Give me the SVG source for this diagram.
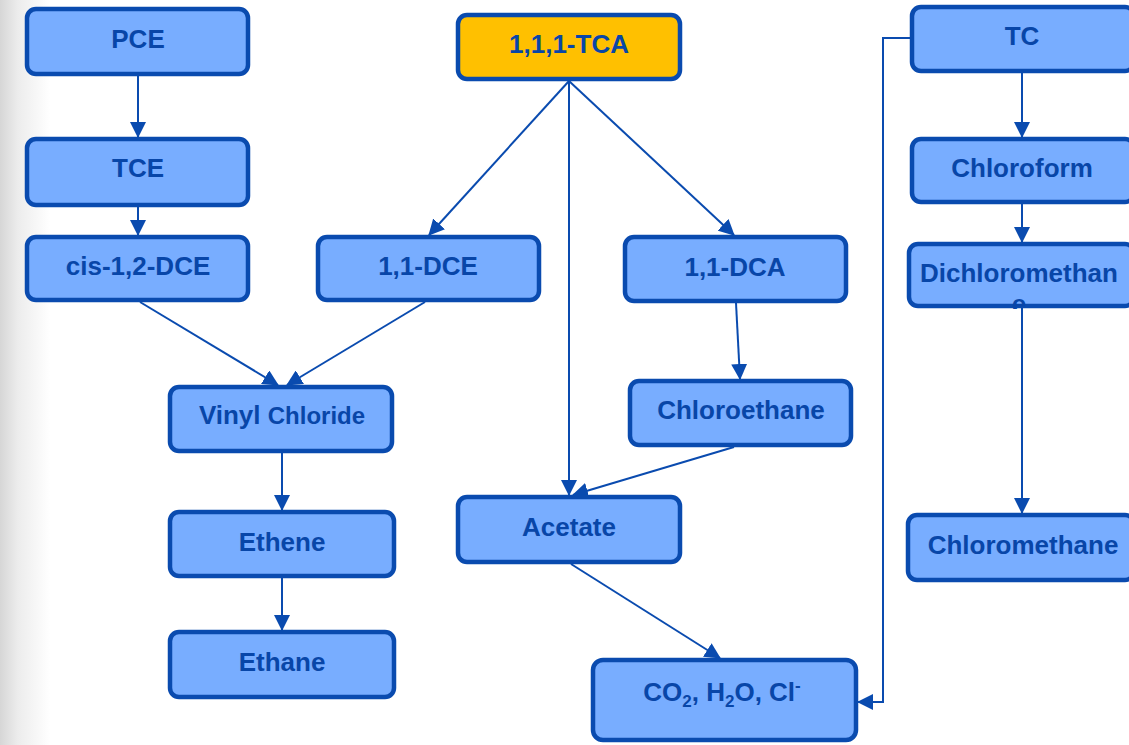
<svg xmlns="http://www.w3.org/2000/svg" width="1129" height="745" viewBox="0 0 1129 745">
<defs>
<linearGradient id="shade" x1="0" y1="0" x2="1" y2="0">
<stop offset="0" stop-color="#d6d6d6"/>
<stop offset="0.35" stop-color="#ececec"/>
<stop offset="1" stop-color="#ffffff"/>
</linearGradient>
<marker id="ah" viewBox="0 0 16 16" refX="15" refY="8" markerWidth="16" markerHeight="16" markerUnits="userSpaceOnUse" orient="auto">
<path d="M0,0 L16,8 L0,16 z" fill="#0A4BAF"/>
</marker>
<clipPath id="dcmClip"><rect x="907" y="242" width="230" height="67"/></clipPath>
</defs>
<style>
.box{fill:#78ADFF;stroke:#0A4BAF;stroke-width:4.5}
.gold{fill:#FFC000;stroke:#0A4BAF;stroke-width:4.5}
.lbl{font-family:"Liberation Sans",Arial,sans-serif;font-weight:bold;font-size:26px;fill:#0846A8;text-anchor:middle}
.con{fill:none;stroke:#0A4BAF;stroke-width:2;marker-end:url(#ah)}
</style>
<rect x="0" y="0" width="1129" height="745" fill="#ffffff"/>
<rect x="0" y="0" width="50" height="745" fill="url(#shade)"/>

<g id="connectors">
<line class="con" x1="138" y1="76" x2="138" y2="137"/>
<line class="con" x1="138" y1="207" x2="138" y2="235"/>
<line class="con" x1="569" y1="81" x2="429" y2="235"/>
<line class="con" x1="569" y1="81" x2="569" y2="495"/>
<line class="con" x1="569" y1="81" x2="734" y2="235"/>
<line class="con" x1="140" y1="302" x2="278" y2="385"/>
<line class="con" x1="425" y1="302" x2="287" y2="385"/>
<line class="con" x1="282" y1="453" x2="282" y2="510"/>
<line class="con" x1="282" y1="578" x2="282" y2="630"/>
<line class="con" x1="736" y1="303" x2="740" y2="379"/>
<line class="con" x1="734" y1="447" x2="573" y2="495"/>
<line class="con" x1="571" y1="564" x2="720" y2="658"/>
<polyline class="con" points="910,38 883,38 883,702 858,702"/>
<line class="con" x1="1022" y1="73" x2="1022" y2="137"/>
<line class="con" x1="1022" y1="204" x2="1022" y2="242"/>
<line class="con" x1="1022" y1="308" x2="1022" y2="513"/>
</g>

<g id="n-pce"><rect class="box" x="27" y="9" width="221" height="65" rx="9"/><text class="lbl" x="138" y="48">PCE</text></g>
<g id="n-tca"><rect class="gold" x="458" y="15" width="222" height="64" rx="9"/><text class="lbl" x="569" y="53">1,1,1-TCA</text></g>
<g id="n-tc"><rect class="box" x="912" y="7" width="222" height="64" rx="9"/><text class="lbl" x="1022" y="45">TC</text></g>
<g id="n-tce"><rect class="box" x="27" y="139" width="221" height="66" rx="9"/><text class="lbl" x="138" y="177">TCE</text></g>
<g id="n-chloroform"><rect class="box" x="912" y="139" width="222" height="63" rx="9"/><text class="lbl" x="1022" y="177">Chloroform</text></g>
<g id="n-cisdce"><rect class="box" x="27" y="237" width="221" height="63" rx="9"/><text class="lbl" x="138" y="275">cis-1,2-DCE</text></g>
<g id="n-11dce"><rect class="box" x="318" y="237" width="221" height="63" rx="9"/><text class="lbl" x="428" y="275">1,1-DCE</text></g>
<g id="n-11dca"><rect class="box" x="625" y="237" width="221" height="64" rx="9"/><text class="lbl" x="735" y="276">1,1-DCA</text></g>
<g id="n-dcm"><rect class="box" x="909" y="244" width="225" height="62" rx="9"/><text class="lbl" x="1019" y="282">Dichloromethan</text><text class="lbl" x="1019" y="313" clip-path="url(#dcmClip)">e</text></g>
<g id="n-vc"><rect class="box" x="170" y="387" width="222" height="64" rx="9"/><text class="lbl" x="282" y="424"><tspan>Vinyl </tspan><tspan font-size="24">Chloride</tspan></text></g>
<g id="n-chloroethane"><rect class="box" x="630" y="381" width="221" height="64" rx="9"/><text class="lbl" x="741" y="419">Chloroethane</text></g>
<g id="n-acetate"><rect class="box" x="458" y="497" width="222" height="65" rx="9"/><text class="lbl" x="569" y="536">Acetate</text></g>
<g id="n-ethene"><rect class="box" x="170" y="512" width="224" height="64" rx="9"/><text class="lbl" x="282" y="551">Ethene</text></g>
<g id="n-chloromethane"><rect class="box" x="908" y="515" width="226" height="65" rx="9"/><text class="lbl" x="1023" y="554">Chloromethane</text></g>
<g id="n-ethane"><rect class="box" x="170" y="632" width="224" height="65" rx="9"/><text class="lbl" x="282" y="671">Ethane</text></g>
<g id="n-co2"><rect class="box" x="593" y="660" width="263" height="80" rx="10"/><text class="lbl" x="722" y="701">CO<tspan font-size="17" dy="6">2</tspan><tspan dy="-6">, H</tspan><tspan font-size="17" dy="6">2</tspan><tspan dy="-6">O, Cl</tspan><tspan font-size="17" dy="-10">-</tspan></text></g>
</svg>
